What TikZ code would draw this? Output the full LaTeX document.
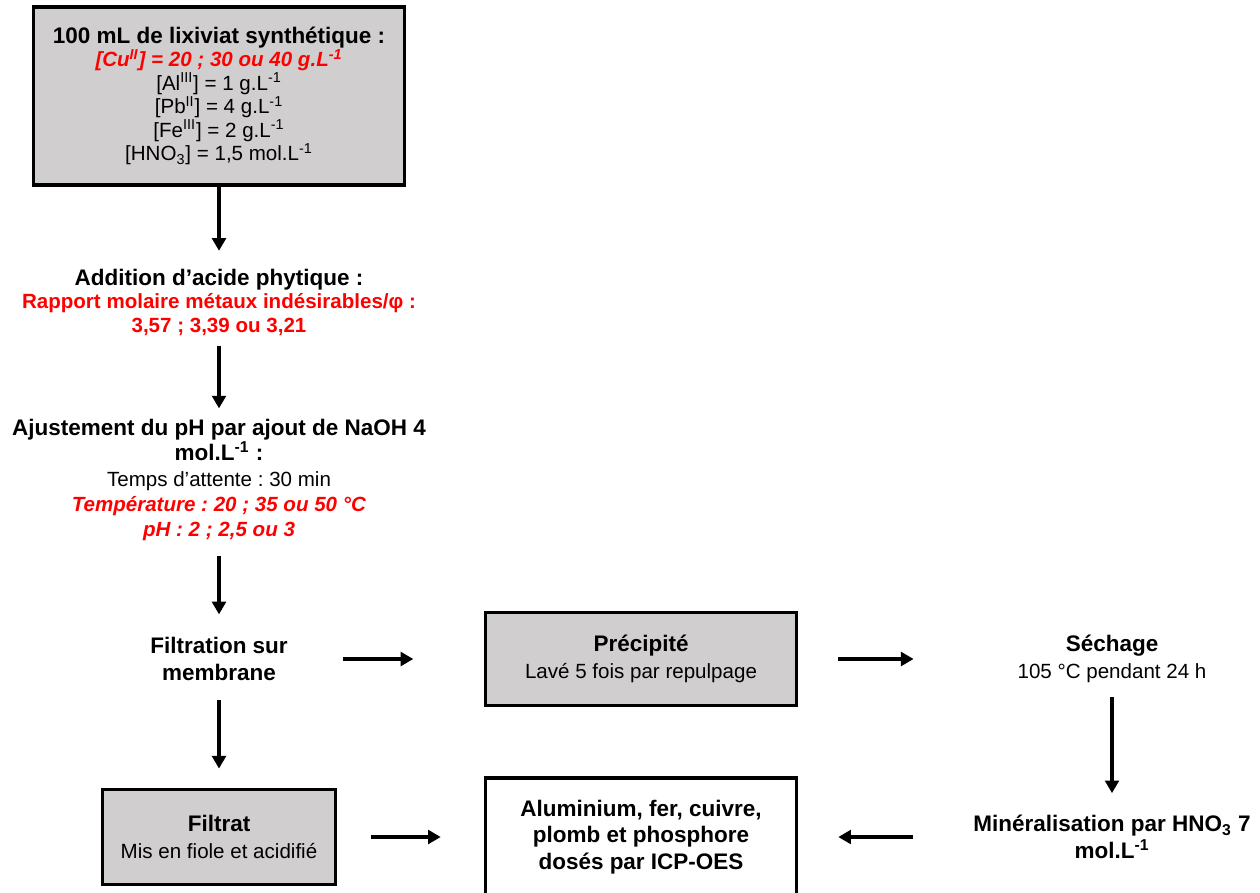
\documentclass[tikz,border=0pt]{standalone}
\usepackage{fontspec}
\setmainfont{Liberation Sans}
\usetikzlibrary{arrows.meta,positioning}
\definecolor{boxgray}{HTML}{D0CECE}
\definecolor{hotred}{HTML}{FF0000}
\newcommand{\rouge}[1]{\textcolor{hotred}{#1}}
\newcommand{\petit}[1]{{\fontsize{11.7}{13.4}\selectfont #1}}
\frenchspacing

\begin{document}
\begin{tikzpicture}[x=0.02cm, y=-0.02cm,
  box/.style={draw=black, line width=2.2pt, fill=boxgray, align=center,
              inner sep=0pt, font=\fontsize{12.8}{13.4}\selectfont},
  whitebox/.style={box, fill=white, font=\fontsize{12.8}{15}\selectfont},
  txt/.style={align=center, inner sep=0pt, font=\fontsize{12.8}{13.4}\selectfont},
  flow/.style={-{Triangle[length=7.2pt,width=7.8pt]}, line width=2.2pt},
]
\useasboundingbox (0,0) rectangle (1260,892);

% Left column
\node[box, minimum width=7.42cm, minimum height=3.56cm] (lixiviat) at (219,96)
  {\textbf{100 mL de lixiviat synthétique :}\\
   \rouge{\petit{\textbf{\textit{[Cu\textsuperscript{II}] = 20 ; 30 ou 40 g.L\textsuperscript{-1}}}}}\\
   \petit{[Al\textsuperscript{III}] = 1 g.L\textsuperscript{-1}}\\
   \petit{[Pb\textsuperscript{II}] = 4 g.L\textsuperscript{-1}}\\
   \petit{[Fe\textsuperscript{III}] = 2 g.L\textsuperscript{-1}}\\
   \petit{[HNO\textsubscript{3}] = 1,5 mol.L\textsuperscript{-1}}};

\node[txt] (phytique) at (219,302)
  {\textbf{Addition d’acide phytique :}\\
   \rouge{\petit{\textbf{Rapport molaire métaux indésirables/φ :}}}\\
   \rouge{\petit{\textbf{3,57 ; 3,39 ou 3,21}}}};

\node[txt, font=\fontsize{12.8}{14.5}\selectfont] (ajustement) at (219,480)
  {\textbf{Ajustement du pH par ajout de NaOH 4}\\
   \textbf{mol.L\textsuperscript{-1} :}\\
   \petit{Temps d’attente : 30 min}\\
   \rouge{\petit{\textbf{\textit{Température : 20 ; 35 ou 50 °C}}}}\\
   \rouge{\petit{\textbf{\textit{pH : 2 ; 2,5 ou 3}}}}};

\node[txt, font=\fontsize{12.8}{15}\selectfont] (filtration) at (219,659)
  {\textbf{Filtration sur}\\ \textbf{membrane}};

\node[box, font=\fontsize{12.8}{15}\selectfont, minimum width=4.66cm, minimum height=1.9cm]
  (filtrat) at (219,837)
  {\textbf{Filtrat}\\ \petit{Mis en fiole et acidifié}};

% Middle column
\node[box, font=\fontsize{12.8}{15}\selectfont, minimum width=6.22cm, minimum height=1.86cm]
  (precipite) at (641,659)
  {\textbf{Précipité}\\ \petit{Lavé 5 fois par repulpage}};

\node[whitebox, minimum width=6.22cm, minimum height=2.36cm] (analyse) at (641,837)
  {\textbf{Aluminium, fer, cuivre,}\\
   \textbf{plomb et phosphore}\\
   \textbf{dosés par ICP-OES}};

% Right column
\node[txt, font=\fontsize{12.8}{15}\selectfont] (sechage) at (1112,659)
  {\textbf{Séchage}\\ \petit{105 °C pendant 24 h}};

\node[txt, font=\fontsize{12.8}{15}\selectfont] (mineral) at (1112,837)
  {\textbf{Minéralisation par HNO\textsubscript{3} 7}\\ \textbf{mol.L\textsuperscript{-1}}};

% Arrows
\draw[flow, shorten >=10pt] (lixiviat.south) -- (phytique.north);
\draw[flow, shorten <=6pt, shorten >=5.7pt] (phytique.south) -- (ajustement.north);
\draw[flow, shorten <=8pt, shorten >=13pt] (ajustement.south) -- (filtration.north);
\draw[flow, shorten <=31pt, shorten >=40pt] (filtration.east) -- (precipite.west);
\draw[flow, shorten <=22.7pt, shorten >=59pt] (precipite.east) -- (sechage.west);
\draw[flow, shorten <=8pt, shorten >=12.5pt] (sechage.south) -- (mineral.north);
\draw[flow, shorten <=34pt, shorten >=22.7pt] (mineral.west) -- (analyse.east);
\draw[flow, shorten <=10.8pt, shorten >=10.8pt] (filtration.south) -- (filtrat.north);
\draw[flow, shorten <=19pt, shorten >=24.4pt] (filtrat.east) -- (analyse.west);

\end{tikzpicture}
\end{document}
